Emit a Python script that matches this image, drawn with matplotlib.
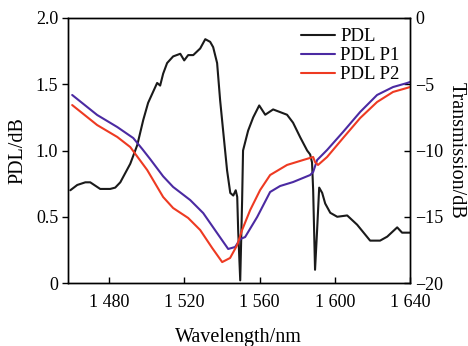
import numpy as np
import matplotlib
matplotlib.use('Agg')
import matplotlib.pyplot as plt

# Data
pdl_wl = [1459.3, 1463.0, 1467.3, 1469.9, 1475.2, 1480.5, 1483.2, 1485.9, 1491.2, 1494.9,
          1498.1, 1500.7, 1505.5, 1507.1, 1508.7, 1510.8, 1514.0, 1517.8, 1519.9, 1522.0,
          1524.7, 1528.4, 1531.1, 1533.7, 1535.3, 1537.4, 1539.0, 1540.6, 1542.7, 1544.4,
          1546.0, 1547.3, 1548.1, 1548.6, 1549.7, 1550.7, 1551.2, 1553.9, 1556.6, 1559.8,
          1563.0, 1567.2, 1570.9, 1574.6, 1577.8, 1581.6, 1585.3, 1586.9, 1587.9, 1588.5,
          1589.5, 1590.6, 1591.7, 1593.3, 1594.9, 1597.6, 1601.3, 1606.6, 1611.9, 1618.8,
          1624.1, 1627.9, 1633.2, 1635.8, 1640.0]
pdl = [0.70, 0.74, 0.76, 0.76, 0.71, 0.71, 0.72, 0.76, 0.90, 1.04,
       1.23, 1.36, 1.51, 1.49, 1.58, 1.66, 1.71, 1.73, 1.68, 1.72,
       1.72, 1.77, 1.84, 1.82, 1.78, 1.66, 1.38, 1.15, 0.85, 0.68,
       0.66, 0.70, 0.65, 0.40, 0.02, 0.62, 1.00, 1.15, 1.25, 1.34,
       1.27, 1.31, 1.29, 1.27, 1.21, 1.10, 1.00, 0.97, 0.91, 0.70,
       0.10, 0.40, 0.72, 0.68, 0.60, 0.53, 0.50, 0.51, 0.44, 0.32,
       0.32, 0.35, 0.42, 0.38, 0.38]

p1_wl = [1460.3, 1473.6, 1484.3, 1492.8, 1497.6, 1501.8, 1508.7, 1514.0, 1523.1, 1530.0,
         1537.4, 1543.3, 1547.0, 1549.7, 1552.3, 1558.7, 1565.6, 1570.9, 1577.8, 1586.9,
         1588.5, 1590.6, 1595.9, 1604.4, 1613.5, 1622.5, 1631.0, 1638.4, 1640.0]
p1 = [-5.81, -7.32, -8.23, -9.06, -9.89, -10.65, -11.95, -12.75, -13.74, -14.72,
      -16.23, -17.43, -17.28, -16.68, -16.53, -15.02, -13.13, -12.68, -12.38, -11.85,
      -11.62, -10.72, -9.96, -8.60, -7.09, -5.81, -5.21, -4.91, -4.83]

p2_wl = [1460.3, 1473.6, 1484.3, 1491.2, 1500.2, 1508.7, 1514.0, 1522.0, 1528.4, 1534.8,
         1540.1, 1544.3, 1548.1, 1550.7, 1555.0, 1560.3, 1565.6, 1574.6, 1583.1, 1588.5,
         1589.5, 1591.1, 1595.9, 1604.4, 1613.5, 1622.5, 1631.0, 1638.4, 1640.0]
p2 = [-6.57, -8.08, -8.98, -9.74, -11.47, -13.51, -14.34, -15.09, -16.00, -17.36,
      -18.42, -18.11, -17.13, -16.00, -14.49, -12.98, -11.85, -11.09, -10.72, -10.49,
      -10.87, -11.09, -10.49, -9.06, -7.55, -6.34, -5.58, -5.28, -5.21]

x_ticks = [1480, 1520, 1560, 1600, 1640]
x_labels = ['1 480', '1 520', '1 560', '1 600', '1 640']
left_ticks = [0, 0.5, 1.0, 1.5, 2.0]
left_labels = ['0', '0.5', '1.0', '1.5', '2.0']
right_ticks = [-20, -15, -10, -5, 0]
right_labels = ['\u221220', '\u221215', '\u221210', '\u22125', '0']

plt.rcParams['font.family'] = ['Liberation Serif', 'DejaVu Serif']
plt.rcParams['font.size'] = 13

fig = plt.figure(figsize=(4.68, 3.46), dpi=100)
ax = fig.add_axes([0.145, 0.182, 0.731, 0.766])
ax2 = ax.twinx()

line_kw = dict(linewidth=1.5, solid_joinstyle='round', solid_capstyle='round')
l1, = ax.plot(pdl_wl, pdl, color='#1a1a1a', label='PDL', **line_kw)
l2, = ax2.plot(p1_wl, p1, color='#4b2aa2', label='PDL P1', **line_kw)
l3, = ax2.plot(p2_wl, p2, color='#ee3a22', label='PDL P2', **line_kw)

ax.set_xlim(1458, 1640)
ax.set_ylim(0, 2.0)
ax2.set_ylim(-20, 0)

ax.set_xticks(x_ticks)
ax.set_xticklabels(x_labels)
ax.set_yticks(left_ticks)
ax.set_yticklabels(left_labels)
ax2.set_yticks(right_ticks)
ax2.set_yticklabels(right_labels)

ax.tick_params(axis='x', direction='in', length=4, width=1, pad=8)
ax.tick_params(axis='y', direction='out', length=4, width=1, pad=3)
ax2.tick_params(axis='y', direction='in', length=4, width=1, pad=4)

for a in (ax, ax2):
    for s in a.spines.values():
        s.set_linewidth(1.0)

ax.set_xlabel('Wavelength/nm', fontsize=14.5, labelpad=12)
ax.set_ylabel('PDL/dB', fontsize=14.5, labelpad=6)
ax2.set_ylabel('Transmission/dB', fontsize=14.5, rotation=270, labelpad=16)

ax.legend(handles=[l1, l2, l3], loc='upper right', frameon=False, fontsize=13.5,
          handlelength=1.8, handletextpad=0.3, labelspacing=0.1,
          borderaxespad=0.15)

fig.savefig('out.png', dpi=100)
